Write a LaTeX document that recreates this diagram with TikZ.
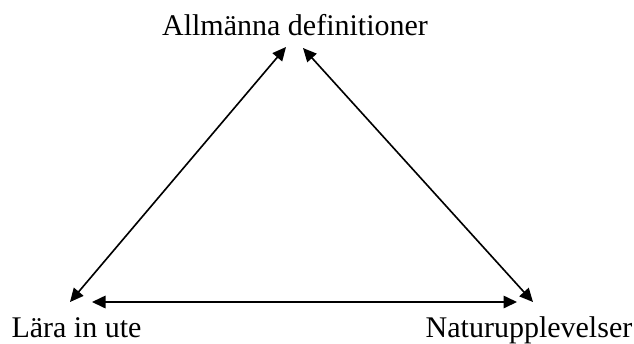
\documentclass[tikz,border=0pt]{standalone}
\usepackage{fontspec}
\setmainfont{Liberation Serif}
\usepackage{tikz}
\usetikzlibrary{arrows.meta, calc}
\tikzstyle{term} = [inner sep=0pt, anchor=base, font=\fontsize{12}{14}\selectfont]
\tikzstyle{arrow2} = [line width=0.65pt, {Triangle[length=5.4pt,width=5pt]}-{Triangle[length=5.4pt,width=5pt]}]

\begin{document}
\begin{tikzpicture}[x=0.4pt, y=0.4pt]
            \useasboundingbox (0,0) rectangle (634,343);

            % Place nodes
            \node (allm) [term] at (295,308) {Allmänna definitioner};
            \node (lara) [term] at (76.5,6) {Lära in ute};
            \node (natur) [term] at (529,6) {Naturupplevelser};

            % Draw edges
            \draw [arrow2] ($(lara.base)+(-6.5,35)$) -- ($(allm.base)+(-9,-12)$);
            \draw [arrow2] ($(allm.base)+(8,-13)$) -- ($(natur.base)+(4,35)$);
            \draw [arrow2] ($(lara.base)+(15.5,35)$) -- ($(natur.base)+(-12,35)$);
        \end{tikzpicture}
\end{document}
